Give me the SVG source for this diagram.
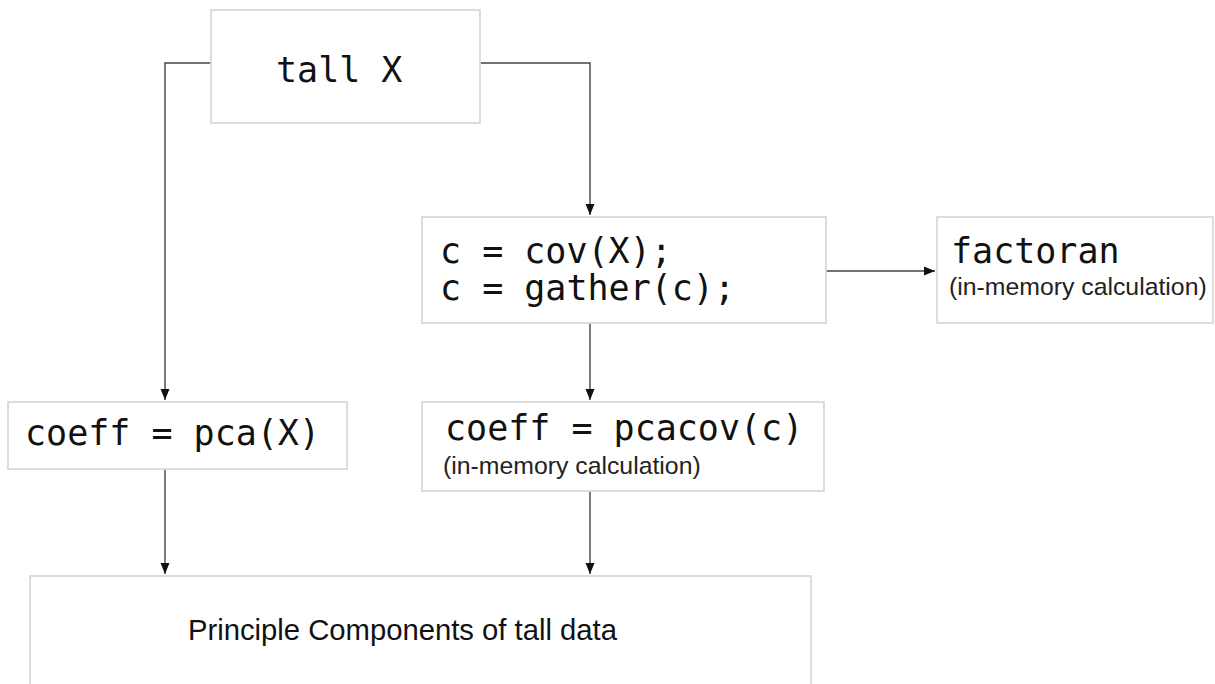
<svg xmlns="http://www.w3.org/2000/svg" width="1215" height="684" viewBox="0 0 1215 684">
<style>
.box{fill:#fff;stroke:#d9d9d9;stroke-width:1.8}
.mono{font-family:"DejaVu Sans Mono","Liberation Mono",monospace;font-size:35px;fill:#111}
.note{font-family:"Liberation Sans",Arial,sans-serif;font-size:24.8px;fill:#222}
.big{font-family:"Liberation Sans",Arial,sans-serif;font-size:30px;fill:#111}
.conn{fill:none;stroke:#444;stroke-width:1.4}
</style>
<defs>
<marker id="arr" markerUnits="userSpaceOnUse" markerWidth="12" markerHeight="10" refX="11" refY="5" orient="auto">
<path d="M0,0.5 L11,5 L0,9.5 Z" fill="#111"/>
</marker>
</defs>
<rect width="1215" height="684" fill="#fff"/>
<g id="connectors">
<path class="conn" d="M211,63 H165 V400" marker-end="url(#arr)"/>
<path class="conn" d="M480,63 H590 V215" marker-end="url(#arr)"/>
<path class="conn" d="M826,271 H935" marker-end="url(#arr)"/>
<path class="conn" d="M590,323 V400" marker-end="url(#arr)"/>
<path class="conn" d="M165,469 V574" marker-end="url(#arr)"/>
<path class="conn" d="M590,491 V574" marker-end="url(#arr)"/>
</g>
<g id="tallX">
<rect class="box" x="211" y="10" width="269" height="113"/>
<text class="mono" x="276" y="82">tall X</text>
</g>
<g id="cov">
<rect class="box" x="422" y="217" width="404" height="106"/>
<text class="mono" x="440" y="263">c = cov(X);</text>
<text class="mono" x="440" y="300">c = gather(c);</text>
</g>
<g id="factoran">
<rect class="box" x="937" y="217" width="276" height="106"/>
<text class="mono" x="951" y="263">factoran</text>
<text class="note" x="949" y="295">(in-memory calculation)</text>
</g>
<g id="pca">
<rect class="box" x="8" y="402" width="339" height="67"/>
<text class="mono" x="25" y="445">coeff = pca(X)</text>
</g>
<g id="pcacov">
<rect class="box" x="422" y="402" width="402" height="89"/>
<text class="mono" x="445" y="440">coeff = pcacov(c)</text>
<text class="note" x="443" y="474">(in-memory calculation)</text>
</g>
<g id="result">
<rect class="box" x="30" y="576" width="781" height="130"/>
<text class="big" x="188" y="640" textLength="429" lengthAdjust="spacingAndGlyphs">Principle Components of tall data</text>
</g>
</svg>
